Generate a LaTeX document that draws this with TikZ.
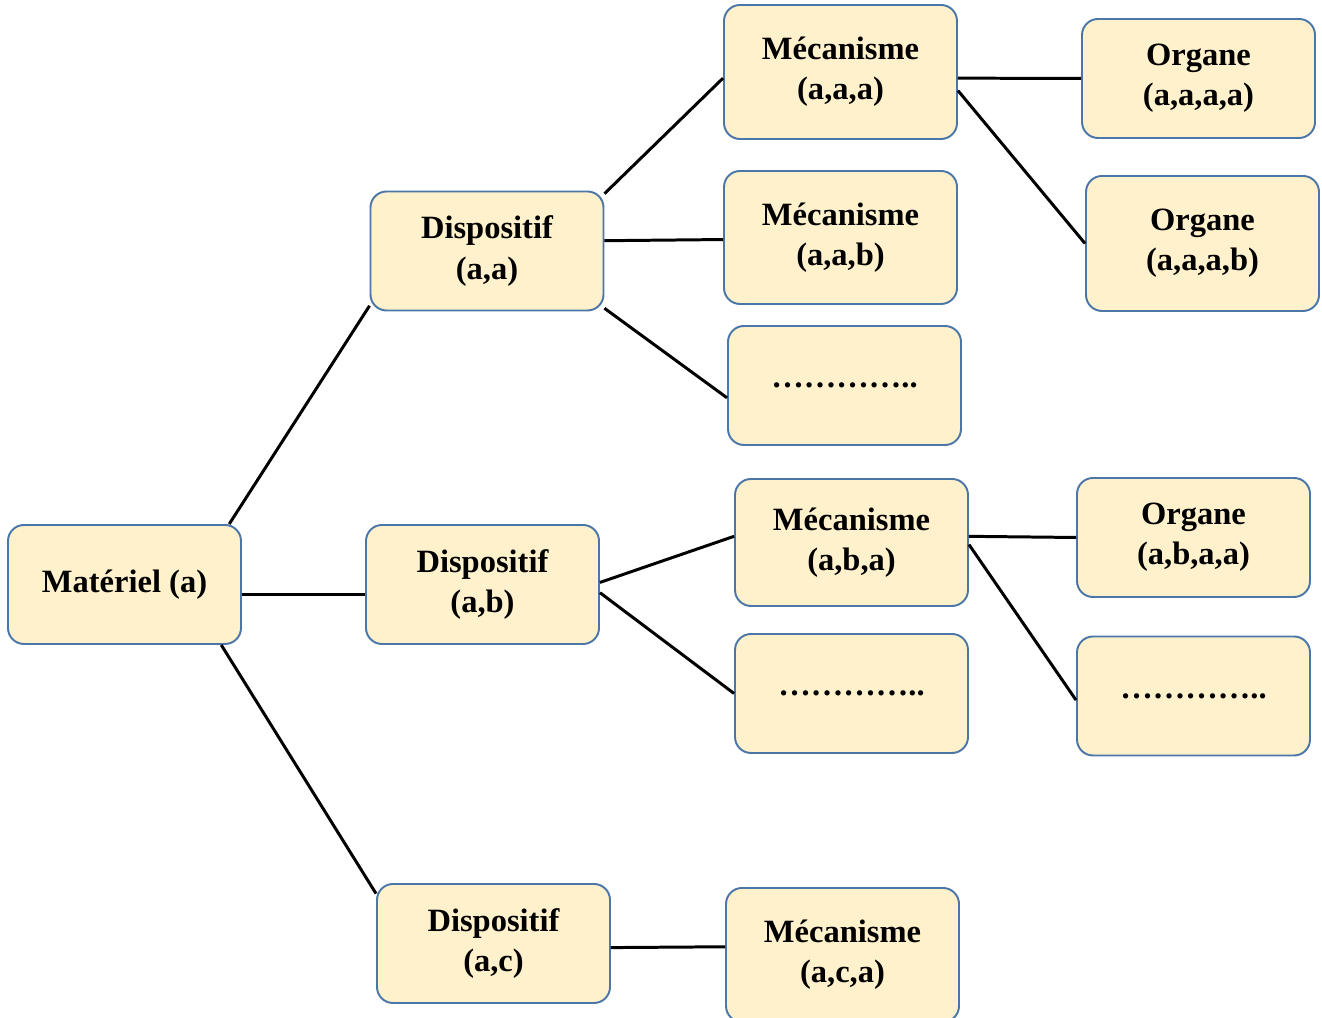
\documentclass[tikz,border=0pt]{standalone}
\usepackage{fontspec}
\setmainfont{Liberation Serif}
\usepackage{tikz}
\usetikzlibrary{shapes,positioning}
\definecolor{boxfill}{HTML}{FFF1CC}
\definecolor{boxdraw}{HTML}{4A76A8}
\tikzset{%
	blocnode/.style={rectangle, rounded corners=0.32cm, draw=boxdraw, line width=1.1pt, fill=boxfill, minimum width=4.66cm, minimum height=2.38cm, align=center, font=\bfseries\fontsize{18.5}{22.8}\selectfont},
	ln/.style={draw=black, line width=1.7pt}
}
\begin{document}
\begin{tikzpicture}
		\useasboundingbox (0,0) rectangle (26.44,20.36);
		\clip (0,0) rectangle (26.44,20.36);
		
		\node[blocnode] (mat) at (2.49,8.67) {Mat\'eriel (a)};
		
		\node[blocnode] (daa) at (9.74,15.34) {Dispositif\\(a,a)};
		\node[blocnode] (dab) at (9.65,8.67) {Dispositif\\(a,b)};
		\node[blocnode] (dac) at (9.87,1.49) {Dispositif\\(a,c)};
		
		\node[blocnode, minimum height=2.68cm] (maaa) at (16.81,18.92) {M\'ecanisme\\(a,a,a)};
		\node[blocnode, minimum height=2.66cm] (maab) at (16.81,15.61) {M\'ecanisme\\(a,a,b)};
		\node[blocnode] (pts1) at (16.89,12.65) {\dots\dots\dots\dots..};
		\node[blocnode, minimum height=2.54cm] (maba) at (17.03,9.51) {M\'ecanisme\\(a,b,a)};
		\node[blocnode] (pts2) at (17.03,6.49) {\dots\dots\dots\dots..};
		\node[blocnode, minimum height=2.68cm] (maca) at (16.85,1.26) {M\'ecanisme\\(a,c,a)};
		
		\node[blocnode] (oaaaa) at (23.97,18.79) {Organe\\(a,a,a,a)};
		\node[blocnode, minimum height=2.70cm] (oaaab) at (24.05,15.49) {Organe\\(a,a,a,b)};
		\node[blocnode] (oabaa) at (23.87,9.61) {Organe\\(a,b,a,a)};
		\node[blocnode] (pts3) at (23.87,6.44) {\dots\dots\dots\dots..};
		
		% materiel -> dispositifs
		\path[ln] (mat.30) -- (daa.205);
		\path[ln] (mat.-5) -- (dab.185);
		\path[ln] (mat.-32) -- (dac.157);
		
		% dispositifs -> mecanismes
		\path[ln] (daa.26) -- (maaa.183);
		\path[ln] (daa.5) -- (maab.181);
		\path[ln] (daa.-26) -- (pts1.186);
		\path[ln] (dab.1) -- (maba.177);
		\path[ln] (dab.-4) -- (pts2.west);
		\path[ln] (dac.-2) -- (maca.176);
		
		% mecanismes -> organes
		\path[ln] (maaa.-3) -- (oaaaa.west);
		\path[ln] (maaa.-9) -- (oaaab.west);
		\path[ln] (maba.3) -- (oabaa.west);
		\path[ln] (maba.-1) -- (pts3.182);
	\end{tikzpicture}
\end{document}
